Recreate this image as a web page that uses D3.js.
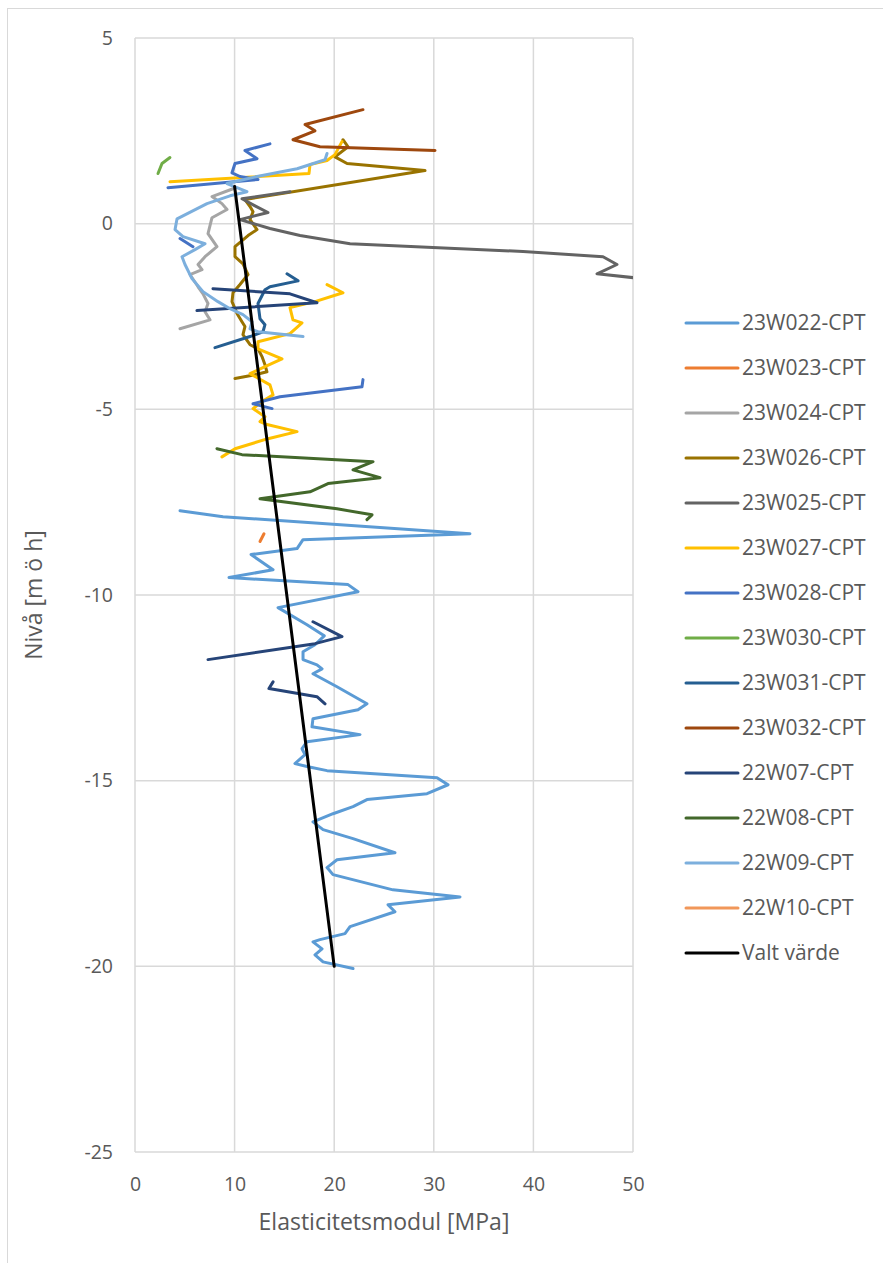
<!DOCTYPE html>
<html>
<head>
<meta charset="utf-8">
<script src="https://cdnjs.cloudflare.com/ajax/libs/d3/7.8.5/d3.min.js"></script>
<style>
  body { margin: 0; background: #fff; }
  text { font-family: "Open Sans", Lato, sans-serif; fill: #595959; }
</style>
</head>
<body>
<div id="chart"></div>
<script>
// data: [E-modul MPa, nivå m ö h], null = glapp i serien
var s23W022 = [[4.52,-7.73],[8.84,-7.89],[33.63,-8.35],[16.87,-8.51],[16.27,-8.75],[11.65,-8.91],[13.86,-9.32],[9.44,-9.53],[21.39,-9.72],[22.39,-9.91],[14.36,-10.34],[17.27,-10.80],[19.0,-11.1],[18.07,-11.34],[16.87,-11.53],[16.87,-11.74],[18.27,-11.88],[18.78,-11.99],[17.87,-12.12],[20.28,-12.47],[23.29,-12.93],[22.39,-13.09],[17.87,-13.33],[17.77,-13.55],[22.59,-13.76],[17.27,-13.95],[16.77,-14.14],[17.07,-14.30],[16.06,-14.54],[17.27,-14.62],[19.28,-14.73],[30.32,-14.92],[31.43,-15.11],[29.32,-15.35],[23.29,-15.51],[21.89,-15.70],[19.88,-15.89],[17.87,-16.11],[18.88,-16.32],[21.89,-16.56],[26.10,-16.94],[20.28,-17.13],[19.28,-17.34],[19.88,-17.53],[25.90,-17.94],[32.63,-18.13],[25.40,-18.34],[26.10,-18.53],[21.59,-18.93],[21.08,-19.12],[18.57,-19.28],[17.87,-19.34],[18.78,-19.53],[18.07,-19.69],[18.88,-19.88],[21.89,-20.06]];
var s23W023 = [[12.55,-8.56],[12.95,-8.35]];
var s23W024 = [[9.84,0.94],[7.73,0.73],[8.73,0.54],[9.24,0.38],[7.73,0.16],[7.33,-0.27],[8.23,-0.62],[7.03,-0.89],[6.33,-1.10],[6.73,-1.24],[5.52,-1.37],[6.33,-1.70],[6.83,-1.89],[7.33,-2.15],[7.03,-2.37],[7.53,-2.59],[4.52,-2.83]];
var s23W026 = [[20.88,2.26],[21.39,2.07],[20.08,1.80],[21.29,1.62],[29.12,1.43],[11.04,0.65],[11.55,0.46],[11.85,0.32],[11.55,0.11],[12.25,-0.16],[11.35,-0.32],[10.04,-0.62],[10.04,-0.89],[10.84,-1.08],[11.35,-1.37],[10.54,-1.64],[9.84,-1.86],[9.74,-2.10],[10.24,-2.42],[10.74,-2.64],[11.04,-2.77],[10.84,-2.99],[11.55,-3.26],[12.35,-3.37],[12.75,-3.58],[13.05,-3.80],[13.25,-3.99],[12.05,-4.07],[10.04,-4.17]];
var s23W025 = [[15.56,0.86],[10.74,0.67],[12.05,0.48],[13.35,0.30],[10.54,0.11],[13.55,-0.13],[16.57,-0.32],[21.59,-0.54],[38.96,-0.75],[46.99,-0.89],[48.39,-1.10],[46.39,-1.35],[50.6,-1.47]];
var s23W027 = [[20.78,2.21],[20.08,1.86],[19.28,1.70],[17.57,1.59],[17.47,1.35],[3.51,1.13],null,[19.28,-1.64],[20.88,-1.86],[18.07,-2.10],[15.56,-2.26],[15.86,-2.59],[16.77,-2.67],[15.56,-2.96],[12.35,-3.18],[12.35,-3.37],[14.76,-3.64],[13.05,-3.85],[11.55,-4.04],[13.55,-4.34],[13.86,-4.61],[12.75,-4.79],[11.85,-4.98],[13.05,-5.20],[12.55,-5.33],[13.25,-5.41],[16.27,-5.60],[13.35,-5.79],[10.04,-6.06],[8.73,-6.28]];
var s23W028 = [[13.55,2.15],[11.04,1.97],[12.25,1.75],[10.04,1.62],[9.74,1.37],[10.54,1.27],[12.35,1.19],[3.31,0.97],null,[4.52,-0.40],[5.82,-0.62],null,[22.89,-4.20],[22.79,-4.39],[14.56,-4.66],[11.85,-4.85],[13.76,-4.98]];
var s23W030 = [[3.51,1.78],[2.71,1.62],[2.31,1.35]];
var s23W031 = [[15.26,-1.35],[16.37,-1.54],[13.55,-1.70],[13.05,-1.78],[12.35,-2.15],[12.55,-2.56],[13.05,-2.72],[12.85,-2.91],[11.55,-3.04],[8.03,-3.34]];
var s23W032 = [[22.89,3.07],[17.07,2.67],[18.07,2.50],[15.86,2.26],[18.57,2.07],[30.12,1.97]];
var s22W07 = [[7.83,-1.75],[15.56,-1.89],[18.27,-2.13],[6.22,-2.34],null,[17.87,-10.72],[20.78,-11.12],[18.07,-11.31],[7.33,-11.74],null,[13.86,-12.34],[13.45,-12.52],[18.27,-12.74],[19.08,-12.93]];
var s22W08 = [[8.23,-6.06],[10.74,-6.22],[23.90,-6.41],[21.89,-6.63],[24.60,-6.84],[19.38,-7.00],[17.57,-7.22],[12.55,-7.41],[20.28,-7.68],[23.80,-7.84],[23.29,-7.97]];
var s22W09 = [[19.28,1.89],[19.08,1.72],[16.27,1.48],[12.25,1.27],[9.24,1.08],[11.24,0.86],[9.54,0.75],[7.23,0.54],[4.22,0.13],[4.02,-0.16],[4.82,-0.35],[7.03,-0.54],[6.02,-0.70],[4.72,-0.89],[5.02,-1.10],[5.72,-1.48],[6.83,-1.83],[8.33,-2.10],[9.54,-2.29],[10.84,-2.45],[11.75,-2.64],[11.55,-2.83],[12.35,-2.91],[16.87,-3.04]];
var s22W10 = [];
var valtVarde = [[10,1],[20,-20]];

var names = ["23W022-CPT","23W023-CPT","23W024-CPT","23W026-CPT","23W025-CPT","23W027-CPT","23W028-CPT","23W030-CPT","23W031-CPT","23W032-CPT","22W07-CPT","22W08-CPT","22W09-CPT","22W10-CPT","Valt värde"];
var seriesData = [s23W022,s23W023,s23W024,s23W026,s23W025,s23W027,s23W028,s23W030,s23W031,s23W032,s22W07,s22W08,s22W09,s22W10,valtVarde];
var colors = ["#5B9BD5","#ED7D31","#A5A5A5","#997300","#636363","#FFC000","#4472C4","#70AD47","#255E91","#9E480E","#264478","#43682B","#7CAFDD","#F1975A","#000000"];
var xTicks = [0,10,20,30,40,50];
var yTicks = [5,0,-5,-10,-15,-20,-25];

var width = 883, height = 1263;
var plotLeft = 135, plotRight = 633, plotTop = 38, plotBottom = 1152;

var svg = d3.select("#chart").append("svg")
	.attr("width", width)
	.attr("height", height);

// chart area frame
svg.append("rect")
	.attr("x", 7.5).attr("y", 8.5)
	.attr("width", 1000).attr("height", 1400)
	.attr("fill", "#fff")
	.attr("stroke", "#d9d9d9");

var x = d3.scaleLinear().domain([0, 50]).range([plotLeft, plotRight]);
var y = d3.scaleLinear().domain([-25, 5]).range([plotBottom, plotTop]);

// gridlines
svg.append("g")
	.selectAll("line")
	.data(xTicks)
	.enter().append("line")
	.attr("x1", function(d){ return x(d); })
	.attr("x2", function(d){ return x(d); })
	.attr("y1", plotTop).attr("y2", plotBottom)
	.attr("stroke", "#d9d9d9")
	.attr("stroke-width", 1.5);

svg.append("g")
	.selectAll("line")
	.data(yTicks)
	.enter().append("line")
	.attr("x1", plotLeft).attr("x2", plotRight)
	.attr("y1", function(d){ return y(d); })
	.attr("y2", function(d){ return y(d); })
	.attr("stroke", "#d9d9d9")
	.attr("stroke-width", 1.5);

// tick labels via axes
svg.append("g")
	.attr("transform", "translate(0," + plotBottom + ")")
	.call(d3.axisBottom(x).tickValues(xTicks).tickSize(0).tickPadding(25).tickFormat(function(d){ return String(d); }));
svg.append("g")
	.attr("transform", "translate(" + plotLeft + ",0)")
	.call(d3.axisLeft(y).tickValues(yTicks).tickSize(0).tickPadding(22).tickFormat(function(d){ return String(d); }));
svg.selectAll(".domain").remove();
svg.selectAll(".tick text")
	.style("font-size", "19.5px")
	.style("font-family", "'Open Sans', sans-serif")
	.attr("fill", "#595959");

// axis titles
svg.append("text")
	.attr("x", (plotLeft + plotRight) / 2)
	.attr("y", 1230)
	.attr("text-anchor", "middle")
	.style("font-size", "23px")
	.text("Elasticitetsmodul [MPa]");

svg.append("text")
	.attr("transform", "translate(42," + ((plotTop + plotBottom) / 2) + ") rotate(-90)")
	.attr("text-anchor", "middle")
	.style("font-size", "23px")
	.text("Nivå [m ö h]");

// series
svg.append("clipPath").attr("id", "plotclip")
	.append("rect")
	.attr("x", plotLeft).attr("y", plotTop)
	.attr("width", plotRight - plotLeft).attr("height", plotBottom - plotTop);

var line = d3.line()
	.defined(function(d){ return d != null; })
	.x(function(d){ return x(d[0]); })
	.y(function(d){ return y(d[1]); });

svg.append("g")
	.attr("clip-path", "url(#plotclip)")
	.selectAll("path")
	.data(seriesData)
	.enter().append("path")
	.attr("d", function(d){ return line(d); })
	.attr("fill", "none")
	.attr("stroke", function(d, i){ return colors[i]; })
	.attr("stroke-width", 3)
	.attr("stroke-linejoin", "round")
	.attr("stroke-linecap", "round");

// legend
var legend = svg.append("g")
	.selectAll("g")
	.data(names)
	.enter().append("g")
	.attr("transform", function(d, i){ return "translate(686," + (323 + i * 45) + ")"; });

legend.append("line")
	.attr("x1", 0).attr("x2", 52)
	.attr("stroke", function(d, i){ return colors[i]; })
	.attr("stroke-width", 3)
	.attr("stroke-linecap", "round");

legend.append("text")
	.attr("x", 56)
	.attr("dy", "0.35em")
	.style("font-size", "21px")
	.text(function(d){ return d; });
</script>
</body>
</html>
